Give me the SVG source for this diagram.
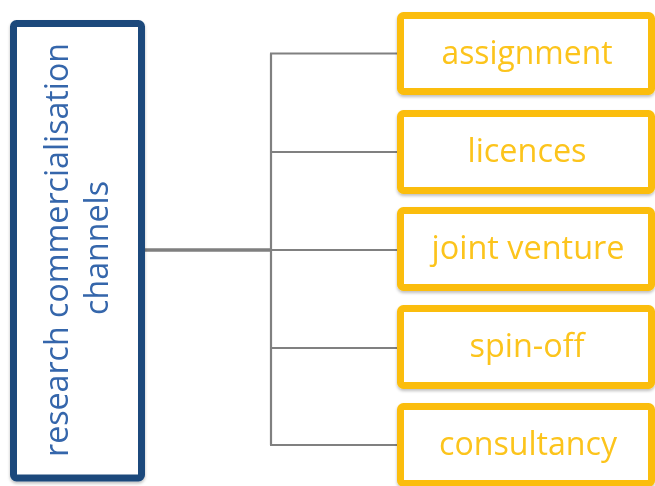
<svg xmlns="http://www.w3.org/2000/svg" width="655" height="486" viewBox="0 0 655 486">
  <style>
    .root-box { fill: #ffffff; stroke: #1f4a7c; stroke-width: 7; }
    .leaf-box { fill: #ffffff; stroke: #fbbd08; stroke-width: 7; }
    .root-text { font-family: "Open Sans", "Liberation Sans", sans-serif; font-size: 33px; fill: #3566ab; text-anchor: middle; }
    .leaf-text { font-family: "Open Sans", "Liberation Sans", sans-serif; font-size: 33px; fill: #fcc41c; text-anchor: middle; }
    .trunk { stroke: #7f7f7f; stroke-width: 3.5; fill: none; }
    .branch { stroke: #808080; stroke-width: 2.2; fill: none; }
  </style>
  <defs>
    <filter id="shadow" x="-10%" y="-10%" width="120%" height="125%">
      <feDropShadow dx="0" dy="2" stdDeviation="1.5" flood-color="#000000" flood-opacity="0.25"/>
    </filter>
  </defs>

  <rect width="655" height="486" fill="#ffffff"/>

  <!-- connectors: trunk from the root box, spine, and one branch per channel -->
  <g id="connectors">
    <line class="trunk" x1="145" y1="250" x2="271" y2="250"/>
    <line class="branch" x1="271" y1="53.5" x2="271" y2="445"/>
    <line class="branch" x1="270" y1="53.5" x2="398" y2="53.5"/>
    <line class="branch" x1="270" y1="152" x2="398" y2="152"/>
    <line class="branch" x1="270" y1="250" x2="398" y2="250"/>
    <line class="branch" x1="270" y1="348" x2="398" y2="348"/>
    <line class="branch" x1="270" y1="445" x2="398" y2="445"/>
  </g>

  <!-- root node -->
  <g id="node-root" filter="url(#shadow)">
    <rect class="root-box" x="13.5" y="23.5" width="128" height="454.5" rx="3"/>
    <text class="root-text" transform="translate(68,250) rotate(-90)" textLength="414" lengthAdjust="spacingAndGlyphs">research commercialisation</text>
    <text class="root-text" transform="translate(108,248) rotate(-90)" textLength="134" lengthAdjust="spacingAndGlyphs">channels</text>
  </g>

  <!-- channel nodes -->
  <g id="node-assignment" filter="url(#shadow)">
    <rect class="leaf-box" x="400.5" y="15.5" width="251" height="76" rx="3"/>
    <text class="leaf-text" x="527" y="64" textLength="171" lengthAdjust="spacingAndGlyphs">assignment</text>
  </g>
  <g id="node-licences" filter="url(#shadow)">
    <rect class="leaf-box" x="400.5" y="113.5" width="251" height="77" rx="3"/>
    <text class="leaf-text" x="527" y="162" textLength="119" lengthAdjust="spacingAndGlyphs">licences</text>
  </g>
  <g id="node-joint-venture" filter="url(#shadow)">
    <rect class="leaf-box" x="400.5" y="210.5" width="251" height="77" rx="3"/>
    <text class="leaf-text" x="528" y="259" textLength="193" lengthAdjust="spacingAndGlyphs">joint venture</text>
  </g>
  <g id="node-spin-off" filter="url(#shadow)">
    <rect class="leaf-box" x="400.5" y="308.5" width="251" height="77" rx="3"/>
    <text class="leaf-text" x="527" y="357" textLength="115" lengthAdjust="spacingAndGlyphs">spin-off</text>
  </g>
  <g id="node-consultancy" filter="url(#shadow)">
    <rect class="leaf-box" x="400.5" y="406.5" width="251" height="77" rx="3"/>
    <text class="leaf-text" x="528" y="455" textLength="178" lengthAdjust="spacingAndGlyphs">consultancy</text>
  </g>
</svg>
